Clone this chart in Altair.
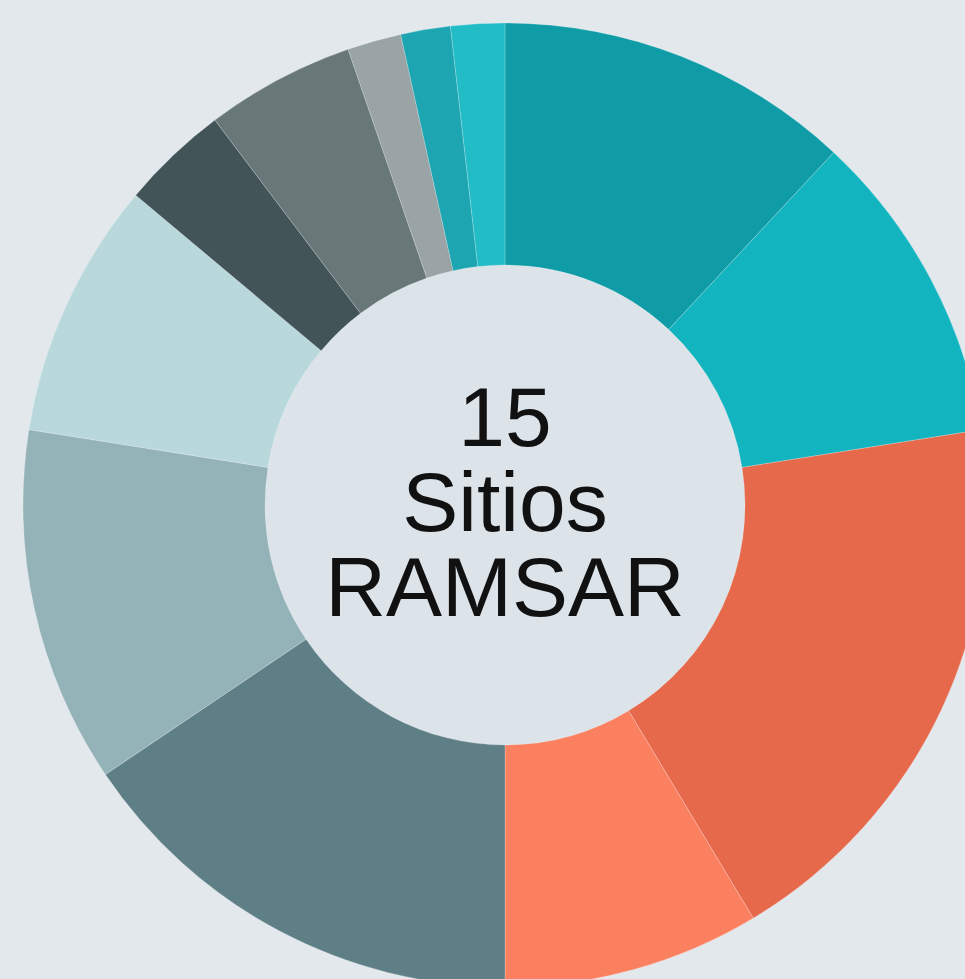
import altair as alt
import pandas as pd

# Slice categories (clockwise from 12 o'clock) and their shares (degrees of the circle)
categories = ["S1", "S2", "S3", "S4", "S5", "S6", "S7", "S8", "S9", "S10", "S11", "S12"]
values = [43, 38, 68, 31, 56, 43, 31, 13, 18, 6.5, 6, 6.5]
colors = ["#0f9ca7", "#12b4bf", "#e5694a", "#fb8060", "#5f7f86", "#94b3b8",
          "#b9d8dc", "#435459", "#687879", "#9aa3a5", "#1da6b1", "#22bcc7"]
center_lines = ["15", "Sitios", "RAMSAR"]

df = pd.DataFrame({"cat": categories, "value": values, "idx": list(range(len(categories)))})

CX, CY = 505, 505

donut = alt.Chart(df).mark_arc(
    innerRadius=240, outerRadius=482, stroke="#ffffff", strokeWidth=0.6, strokeOpacity=0.35
).encode(
    theta=alt.Theta("value:Q", stack=True),
    order=alt.Order("idx:Q"),
    color=alt.Color("cat:N", scale=alt.Scale(domain=categories, range=colors), legend=None),
    x=alt.value(CX),
    y=alt.value(CY),
)

hole = alt.Chart(pd.DataFrame({"a": [1]})).mark_arc(
    outerRadius=240, innerRadius=0, fill="#dce3e9", theta=0, theta2=6.2832
).encode(x=alt.value(CX), y=alt.value(CY))

label = alt.Chart(pd.DataFrame({"t": ["\n".join(center_lines)]})).mark_text(
    font="Liberation Sans", fontSize=84, lineBreak="\n", lineHeight=85,
    baseline="middle", align="center", color="#111111"
).encode(text="t:N", x=alt.value(CX), y=alt.value(CY - 84))

chart = alt.layer(hole, donut, label).properties(
    width=965, height=979,
    autosize=alt.AutoSizeParams(type="none"),
    padding=0,
    background="#e3e8ed",
).configure_view(stroke=None)

chart.save("out.html", embed_options={"renderer": "svg", "actions": False})
